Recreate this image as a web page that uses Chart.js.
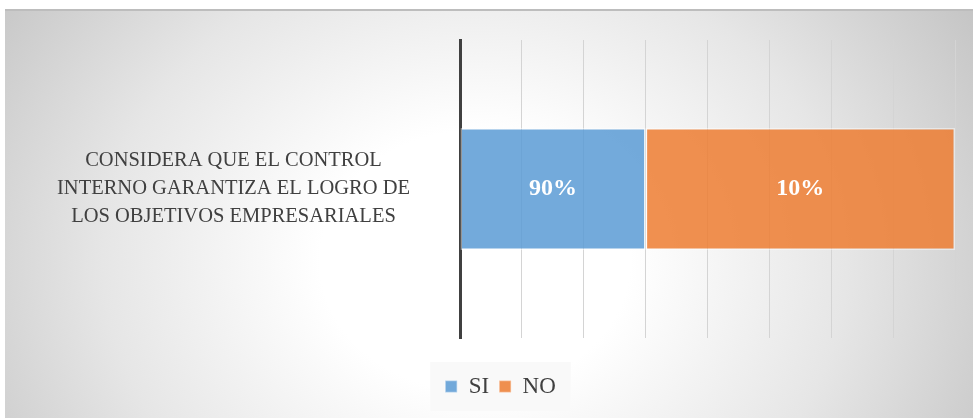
<!DOCTYPE html>
<html>
<head>
<meta charset="utf-8">
<script src="https://cdn.jsdelivr.net/npm/chart.js"></script>
<style>
  html, body { margin: 0; padding: 0; background: #fff; }
  #frame {
    position: absolute; left: 5px; top: 9px; width: 968px; height: 409px;
    border-top: 2px solid #bdbdbd;
    background: radial-gradient(ellipse 620px 520px at 470px 250px, #ffffff 0%, #ffffff 25%, #e6e6e6 60%, #bfbfbf 100%);
  }
  #wrap { position: absolute; left: 0; top: 0; width: 973px; height: 418px; }
</style>
</head>
<body>
<div id="frame"></div>
<div id="wrap"><canvas id="bar-chart"></canvas></div>
<script>
// chart data
var categories = [['CONSIDERA QUE EL CONTROL', 'INTERNO GARANTIZA EL LOGRO DE', 'LOS OBJETIVOS EMPRESARIALES']];
var seriesNames = ['SI', 'NO'];
var siValues = [3];
var noValues = [5];
var siLabels = ['90%'];
var noLabels = ['10%'];

// writes the percent text in the middle of each segment
var segmentText = {
    id: 'segmentText',
    afterDatasetsDraw: function(chart) {
        var ctx = chart.ctx;
        var texts = [siLabels, noLabels];
        ctx.save();
        ctx.fillStyle = '#ffffff';
        ctx.font = 'bold 24px "Liberation Serif"';
        ctx.textAlign = 'center';
        ctx.textBaseline = 'middle';
        chart.data.datasets.forEach(function(ds, i) {
            var meta = chart.getDatasetMeta(i);
            meta.data.forEach(function(bar, j) {
                var p = bar.getCenterPoint();
                ctx.fillText(texts[i][j], p.x, p.y);
            });
        });
        ctx.restore();
    }
};

// nudges the legend a bit right and puts a faint box behind it
var legendShift = 18;
var legendBox = {
    id: 'legendBox',
    afterLayout: function(chart) {
        chart.legend.left += legendShift;
        chart.legend.right += legendShift;
    },
    beforeDraw: function(chart) {
        var lg = chart.legend;
        var boxes = lg.legendHitBoxes;
        if (!boxes || !boxes.length) return;
        var w = 0;
        boxes.forEach(function(b) { w += b.width; });
        w += 10 * (boxes.length - 1);
        var cx = (lg.left + lg.right) / 2;
        var ctx = chart.ctx;
        ctx.save();
        ctx.fillStyle = '#f9f9f9';
        ctx.fillRect(cx - w / 2 - 15, lg.top + 10 - 13, w + 30, boxes[0].height + 26);
        ctx.restore();
    }
};

var barChart = new Chart(document.getElementById('bar-chart'), {
    type: 'bar',
    data: {
        labels: categories,
        datasets: [{
            label: seriesNames[0],
            data: siValues,
            backgroundColor: 'rgba(91,155,213,0.85)',
            borderColor: 'rgba(255,255,255,0.45)',
            borderWidth: 1.5,
            borderSkipped: false,
            barPercentage: 0.41,
            categoryPercentage: 1
        }, {
            label: seriesNames[1],
            data: noValues,
            backgroundColor: 'rgba(237,125,49,0.85)',
            borderColor: 'rgba(255,255,255,0.45)',
            borderWidth: 1.5,
            borderSkipped: false,
            barPercentage: 0.41,
            categoryPercentage: 1
        }]
    },
    options: {
        indexAxis: 'y',
        responsive: true,
        maintainAspectRatio: false,
        animation: false,
        layout: { padding: { left: 10, right: 18, top: 40, bottom: 10 } },
        scales: {
            x: {
                stacked: true,
                min: 0,
                max: 8,
                ticks: { display: false, stepSize: 1 },
                grid: { color: '#d4d4d4', lineWidth: 1, drawTicks: false },
                border: { display: false },
                afterFit: function(s) { s.height = 27; }
            },
            y: {
                stacked: true,
                grid: { display: false, drawTicks: false },
                border: { display: true, color: '#404040', width: 3 },
                ticks: {
                    crossAlign: 'center',
                    color: '#404040',
                    padding: 50,
                    font: { family: '"Liberation Serif"', size: 20.5, lineHeight: 1.37 }
                },
                afterFit: function(s) {
                    s.width = 450;
                    s.paddingTop = 0;
                    s.paddingBottom = 0;
                }
            }
        },
        plugins: {
            tooltip: { enabled: false },
            legend: {
                position: 'bottom',
                labels: {
                    color: '#404040',
                    boxWidth: 12,
                    boxHeight: 12,
                    padding: 10,
                    font: { family: '"Liberation Serif"', size: 23 }
                }
            }
        }
    },
    plugins: [legendBox, segmentText]
});
</script>
</body>
</html>
